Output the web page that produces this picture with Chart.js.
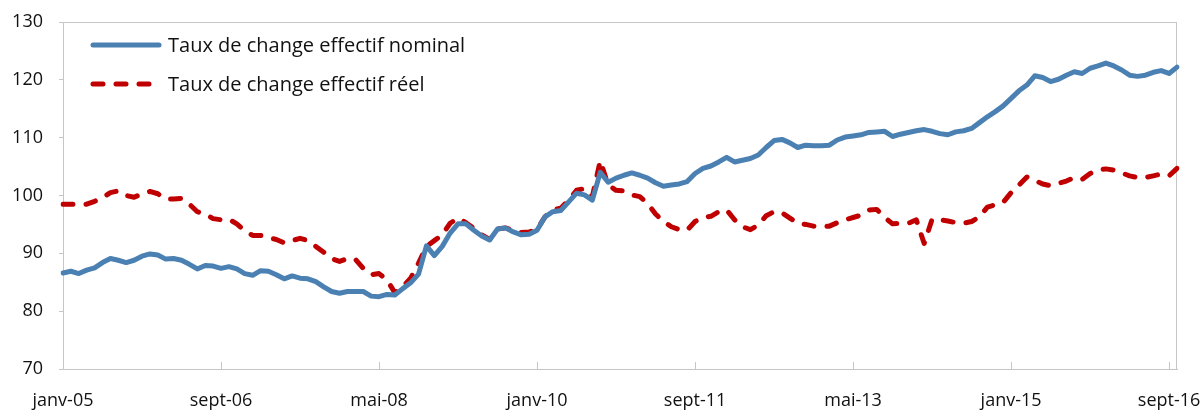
<!DOCTYPE html>
<html lang="fr">
<head>
<meta charset="utf-8">
<script src="https://cdn.jsdelivr.net/npm/chart.js@4.4.1/dist/chart.umd.min.js"></script>
<style>
  html, body { margin: 0; padding: 0; background: #fff; }
  #wrap { width: 1202px; height: 411px; position: relative; }
</style>
</head>
<body>
<div id="wrap"><canvas id="tce"></canvas></div>
<script>
// séries mensuelles, janv-05 -> oct-16
const moisAbr = ['janv', 'févr', 'mars', 'avr', 'mai', 'juin', 'juil', 'août', 'sept', 'oct', 'nov', 'déc'];
const anneeDebut = 2005;

const nominal = [
  86.6, 86.9, 86.5, 87.1, 87.5, 88.4, 89.1, 88.8, 88.4, 88.8, 89.5, 89.9,
  89.7, 89.0, 89.1, 88.8, 88.1, 87.3, 87.9, 87.8, 87.4, 87.7, 87.3, 86.5,
  86.2, 87.0, 86.9, 86.3, 85.6, 86.1, 85.7, 85.6, 85.1, 84.2, 83.4, 83.1,
  83.4, 83.4, 83.4, 82.6, 82.5, 82.9, 82.8, 83.9, 84.9, 86.4, 91.3, 89.6,
  91.2, 93.5, 95.1, 95.1, 94.0, 93.0, 92.3, 94.2, 94.4, 93.7, 93.2, 93.3,
  94.0, 96.3, 97.2, 97.4, 98.9, 100.4, 100.1, 99.2, 104.0, 102.3, 103.0, 103.5,
  103.9, 103.5, 103.0, 102.2, 101.6, 101.8, 102.0, 102.4, 103.8, 104.7, 105.1, 105.8,
  106.6, 105.8, 106.1, 106.4, 107.0, 108.3, 109.5, 109.7, 109.1, 108.3, 108.7, 108.6,
  108.6, 108.7, 109.6, 110.1, 110.3, 110.5, 110.9, 111.0, 111.1, 110.2, 110.6, 110.9,
  111.2, 111.4, 111.1, 110.7, 110.5, 111.0, 111.2, 111.6, 112.6, 113.6, 114.5, 115.5,
  116.8, 118.1, 119.1, 120.7, 120.4, 119.7, 120.1, 120.8, 121.4, 121.1, 122.0, 122.4,
  122.9, 122.4, 121.7, 120.8, 120.6, 120.8, 121.3, 121.6, 121.1, 122.2
];

const reel = [
  98.5, 98.5, 98.4, 98.5, 99.0, 99.6, 100.5, 100.8, 100.0, 99.7, 100.3, 100.7,
  100.3, 99.4, 99.4, 99.5, 98.5, 97.2, 96.8, 96.0, 95.8, 95.9, 95.1, 93.9,
  93.1, 93.1, 92.7, 92.4, 91.8, 92.2, 92.6, 92.2, 91.2, 90.2, 89.1, 88.6,
  89.1, 89.0, 87.4, 86.3, 86.5, 85.4, 83.2, 84.2, 85.7, 88.3, 91.2, 92.2,
  93.2, 95.2, 96.1, 95.3, 94.3, 93.2, 92.4, 94.2, 94.4, 94.0, 93.6, 93.7,
  94.1, 96.3, 97.5, 97.8, 99.2, 100.9, 101.2, 99.8, 106.0, 101.8, 100.9, 100.8,
  100.1, 99.8, 98.6, 96.8, 95.5, 94.6, 94.1, 94.0, 95.5, 96.2, 96.4, 97.2,
  97.5, 95.8, 94.6, 94.1, 94.9, 96.5, 97.2, 97.0, 96.1, 95.2, 95.0, 94.7,
  94.6, 94.7, 95.3, 95.8, 96.2, 96.6, 97.5, 97.6, 96.2, 95.1, 95.2, 95.2,
  95.8, 91.7, 95.9, 95.8, 95.6, 95.3, 95.2, 95.5, 96.3, 98.0, 98.4, 98.8,
  100.5, 101.8, 103.2, 102.6, 102.0, 101.7, 102.1, 102.5, 103.1, 102.8, 103.8, 104.4,
  104.6, 104.4, 103.9, 103.4, 103.1, 103.1, 103.4, 103.7, 103.4, 104.7
];

const pasEtiquette = 20; // une étiquette tous les 20 mois
const yMin = 70, yMax = 130, yPas = 10;

const categories = nominal.map((_, i) =>
  moisAbr[i % 12] + '-' + String((anneeDebut + Math.floor(i / 12)) % 100).padStart(2, '0'));

const gris = '#c6c6c6';
const police = "'Open Sans', 'Noto Sans', sans-serif";

// cadre + petites graduations vers l'intérieur sur l'axe x
const cadre = {
  id: 'cadre',
  beforeDatasetsDraw(chart) {
    const { ctx, chartArea: a, scales } = chart;
    ctx.save();
    ctx.strokeStyle = gris;
    ctx.lineWidth = 1;
    ctx.strokeRect(a.left + 0.5, a.top + 0.5, a.right - a.left - 1, a.bottom - a.top);
    ctx.beginPath();
    categories.forEach((c, i) => {
      if (i === 0 || i % pasEtiquette !== 0) return;
      const x = Math.round(scales.x.getPixelForValue(i)) + 0.5;
      ctx.moveTo(x, a.bottom);
      ctx.lineTo(x, a.bottom - 7);
    });
    ctx.stroke();
    ctx.restore();
  }
};

// légende dans la zone du graphique
const legendeInterne = {
  id: 'legendeInterne',
  afterDraw(chart) {
    const { ctx, chartArea: a } = chart;
    ctx.save();
    ctx.font = '20px ' + police;
    ctx.textBaseline = 'middle';
    chart.data.datasets.forEach((ds, k) => {
      const y = a.top + 23 + k * 39;
      const x0 = a.left + 30;
      ctx.strokeStyle = ds.borderColor;
      ctx.lineWidth = ds.borderWidth;
      ctx.lineCap = 'round';
      ctx.setLineDash(ds.borderDash || []);
      ctx.beginPath();
      ctx.moveTo(x0, y);
      ctx.lineTo(x0 + 66, y);
      ctx.stroke();
      ctx.setLineDash([]);
      ctx.fillStyle = '#111';
      ctx.fillText(ds.label, x0 + 75, y + 1);
    });
    ctx.restore();
  }
};

new Chart(document.getElementById('tce'), {
  type: 'line',
  data: {
    labels: categories,
    datasets: [
      {
        label: 'Taux de change effectif nominal',
        data: nominal,
        borderColor: '#4a80b2',
        borderWidth: 5,
        borderJoinStyle: 'round',
        borderCapStyle: 'round',
        pointRadius: 0,
        tension: 0
      },
      {
        label: 'Taux de change effectif réel',
        data: reel,
        borderColor: '#c00000',
        borderWidth: 5,
        borderDash: [10, 13],
        borderJoinStyle: 'round',
        borderCapStyle: 'round',
        pointRadius: 0,
        tension: 0
      }
    ]
  },
  options: {
    responsive: true,
    maintainAspectRatio: false,
    animation: false,
    layout: { padding: { top: 22, right: 25, left: 0, bottom: 0 } },
    plugins: {
      legend: { display: false },
      tooltip: { enabled: false }
    },
    scales: {
      x: {
        offset: false,
        grid: { display: false },
        border: { display: true, color: gris },
        ticks: {
          autoSkip: false,
          maxRotation: 0,
          padding: 13,
          color: '#111',
          font: { family: police, size: 18 },
          callback: (v, i) => (i % pasEtiquette === 0 ? categories[i] : null)
        },
        afterFit: s => { s.height = 42; s.paddingLeft = 0; s.paddingRight = 0; }
      },
      y: {
        min: yMin,
        max: yMax,
        grid: { drawOnChartArea: false, drawTicks: true, tickLength: 4, color: gris },
        border: { display: true, color: gris },
        ticks: {
          stepSize: yPas,
          padding: 16,
          color: '#111',
          font: { family: police, size: 18 }
        },
        afterFit: s => { s.width = 63; s.paddingTop = 0; s.paddingBottom = 0; }
      }
    }
  },
  plugins: [cadre, legendeInterne]
});
</script>
</body>
</html>
